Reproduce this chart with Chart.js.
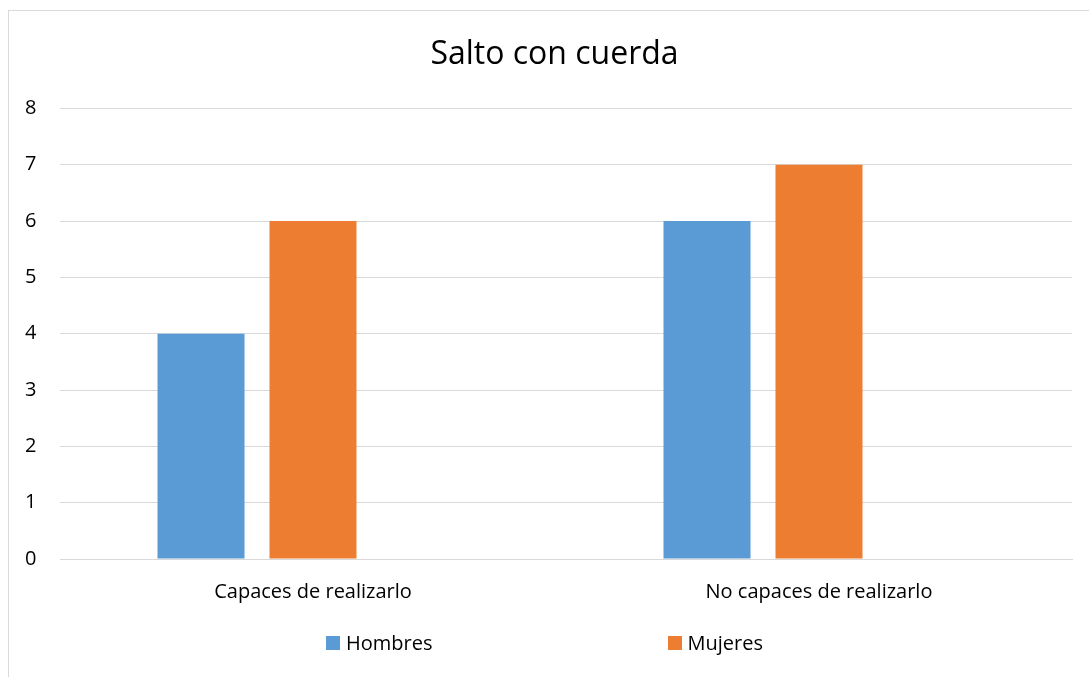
<!DOCTYPE html>
<html>
<head>
<meta charset="utf-8">
<script src="https://cdn.jsdelivr.net/npm/chart.js@4.4.0/dist/chart.umd.min.js"></script>
<style>
  html, body { margin: 0; padding: 0; background: #fff; }
  #wrap { position: relative; width: 1089px; height: 677px; overflow: hidden; }
  #frame { position: absolute; left: 8px; top: 10px; width: 1200px; height: 800px; border: 1px solid #d9d9d9; box-sizing: border-box; }
  #chartBox { position: absolute; left: 0; top: 0; width: 1089px; height: 677px; }
  #legend { position: absolute; left: 0; width: 1089px; top: 629px; display: flex; justify-content: center; gap: 235px;
            font-family: "Open Sans", sans-serif; font-size: 20px; color: #000; }
  #legend .item { display: flex; align-items: center; }
  #legend .sw { width: 14px; height: 14px; margin-right: 6px; }
</style>
</head>
<body>
<div id="wrap">
  <div id="frame"></div>
  <div id="chartBox"><canvas id="saltoChart"></canvas></div>
  <div id="legend"></div>
</div>
<script>
// data
const categories = ['Capaces de realizarlo', 'No capaces de realizarlo'];
const hombres = [4, 6];
const mujeres = [6, 7];
const serie3 = [null, null]; // empty third series, keeps the bar offset
const yTicks = [0, 1, 2, 3, 4, 5, 6, 7, 8];

const FONT = '"Open Sans", sans-serif';

const ctx = document.getElementById('saltoChart').getContext('2d');
const saltoChart = new Chart(ctx, {
    type: 'bar',
    data: {
        labels: categories,
        datasets: [
            { label: 'Hombres', data: hombres, backgroundColor: '#5B9BD5' },
            { label: 'Mujeres', data: mujeres, backgroundColor: '#ED7D31' },
            { label: 'Serie 3', data: serie3, backgroundColor: '#A5A5A5', showInLegend: false }
        ]
    },
    options: {
        responsive: true,
        maintainAspectRatio: false,
        animation: false,
        datasets: {
            bar: { categoryPercentage: 0.664, barPercentage: 0.777 }
        },
        // left padding is wider so the title sits a bit right of centre, like the original
        layout: { padding: { left: 37, right: 17, top: 0, bottom: 60 } },
        plugins: {
            legend: { display: false },
            tooltip: { enabled: false },
            title: {
                display: true,
                text: 'Salto con cuerda',
                color: '#000',
                font: { family: FONT, size: 32, weight: 'normal' },
                padding: { top: 36, bottom: 34 }
            }
        },
        scales: {
            x: {
                grid: { display: false },
                border: { display: true, color: '#d9d9d9' },
                ticks: { color: '#000', font: { family: FONT, size: 20 }, padding: 13 }
            },
            y: {
                min: yTicks[0],
                max: yTicks[yTicks.length - 1],
                afterBuildTicks: axis => { axis.ticks = yTicks.map(v => ({ value: v })); },
                afterFit: axis => { axis.width = 23; },
                grid: { color: '#d9d9d9', drawTicks: false },
                border: { display: false },
                // mirrored with a negative padding so the labels are not clipped to the narrow axis box
                ticks: { color: '#000', font: { family: FONT, size: 20 }, mirror: true, crossAlign: 'near', padding: -35 }
            }
        }
    }
});

// html legend, wide spacing like the original
const legendEl = document.getElementById('legend');
saltoChart.data.datasets.forEach(ds => {
    if (ds.showInLegend === false) return;
    const item = document.createElement('div');
    item.className = 'item';
    item.innerHTML = '<span class="sw" style="background:' + ds.backgroundColor + '"></span>' + ds.label;
    legendEl.appendChild(item);
});
</script>
</body>
</html>
